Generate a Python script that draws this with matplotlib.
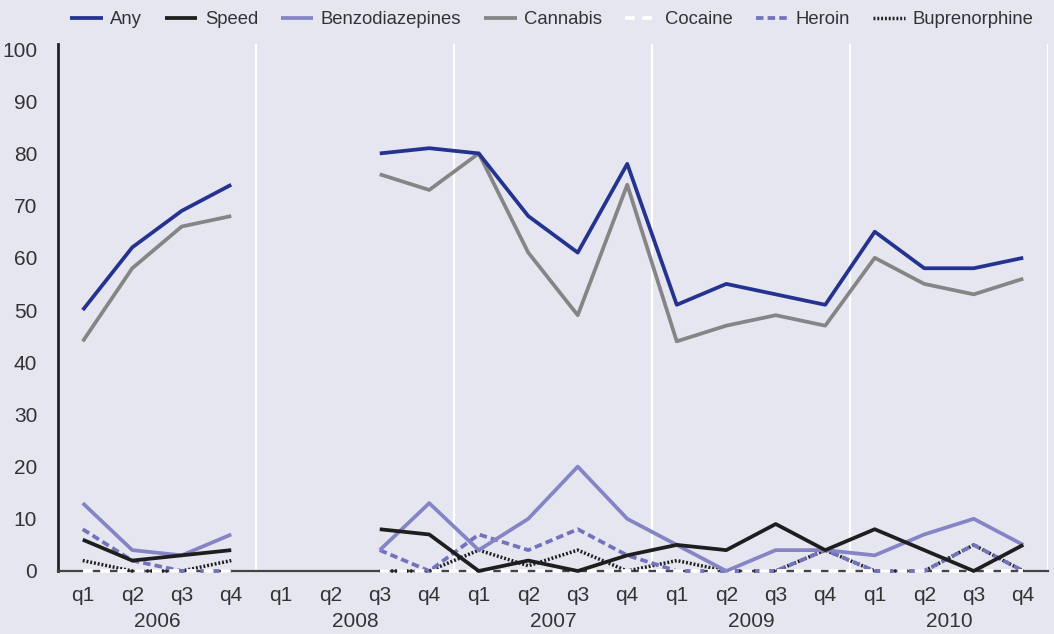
import numpy as np
import matplotlib
matplotlib.use("Agg")
import matplotlib.pyplot as plt
from matplotlib import transforms

plt.rcParams['font.family'] = ['Liberation Sans', 'DejaVu Sans']

years = ['2006', '2008', '2007', '2009', '2010']
quarters = ['q1', 'q2', 'q3', 'q4']
nan = np.nan

any_use = [50, 62, 69, 74, nan, nan, 80, 81, 80, 68, 61, 78, 51, 55, 53, 51, 65, 58, 58, 60]
speed = [6, 2, 3, 4, nan, nan, 8, 7, 0, 2, 0, 3, 5, 4, 9, 4, 8, 4, 0, 5]
benzo = [13, 4, 3, 7, nan, nan, 4, 13, 4, 10, 20, 10, 5, 0, 4, 4, 3, 7, 10, 5]
cannabis = [44, 58, 66, 68, nan, nan, 76, 73, 80, 61, 49, 74, 44, 47, 49, 47, 60, 55, 53, 56]
cocaine = [0, 0, 0, 0, nan, nan, 0, 0, 0, 0, 0, 0, 0, 0, 0, 0, 0, 0, 0, 0]
heroin = [8, 2, 0, 0, nan, nan, 4, 0, 7, 4, 8, 3, 0, 0, 0, 4, 0, 0, 5, 0]
bupe = [2, 0, 0, 2, nan, nan, 0, 0, 4, 1, 4, 0, 2, 0, 0, 4, 0, 0, 5, 0]

series = [
    ('Any', any_use, dict(color='#24338F', lw=2.7)),
    ('Speed', speed, dict(color='#1E1E1E', lw=2.7)),
    ('Benzodiazepines', benzo, dict(color='#8585C6', lw=2.7)),
    ('Cannabis', cannabis, dict(color='#858585', lw=2.7)),
    ('Cocaine', cocaine, dict(color='white', lw=2.7, dashes=(2.6, 2.0))),
    ('Heroin', heroin, dict(color='#7373BC', lw=2.7, dashes=(2.0, 1.1))),
    ('Buprenorphine', bupe, dict(color='#1E1E1E', lw=2.5, dashes=(0.55, 0.55))),
]

bg = '#E6E6F1'
txt = '#333333'
fig = plt.figure(figsize=(10.54, 6.34), dpi=100, facecolor=bg)
ax = fig.add_axes([58 / 1054, 63 / 634, 990 / 1054, 527.2 / 634])
ax.set_facecolor(bg)

n = len(years) * len(quarters)
x = np.arange(n)
handles = []
for i, (name, vals, st) in enumerate(series):
    h, = ax.plot(x, vals, label=name, zorder=10 - i, clip_on=False,
                 solid_capstyle='butt', dash_capstyle='butt', **st)
    handles.append(h)

ax.set_xlim(-0.5, n - 0.5)
ax.set_ylim(0, 101)
ax.set_yticks(range(0, 101, 10))

# group separators
for g in range(1, len(years) + 1):
    ax.axvline(g * len(quarters) - 0.5, color='white', lw=1.6, zorder=1)

ax.set_xticks(x)
ax.set_xticklabels(quarters * len(years))
ax.tick_params(axis='both', length=0, labelsize=15, colors=txt)
ax.tick_params(axis='y', pad=15)
ax.tick_params(axis='x', pad=11)

trans = transforms.blended_transform_factory(ax.transData, ax.transAxes)
for gi, yr in enumerate(years):
    cx = gi * len(quarters) + (len(quarters) - 1) / 2
    ax.text(cx, -0.096, yr, transform=trans, ha='center', va='center',
            fontsize=15, color=txt)

for s in ['top', 'right']:
    ax.spines[s].set_visible(False)
ax.spines['left'].set_color('#222222')
ax.spines['left'].set_linewidth(2.0)
ax.spines['bottom'].set_color('#444444')
ax.spines['bottom'].set_linewidth(1.6)

leg = fig.legend(handles=handles, loc='center', ncol=7,
                 bbox_to_anchor=(552 / 1054, 1 - 20 / 634), frameon=False,
                 fontsize=13.3, handlelength=1.75, handletextpad=0.4,
                 columnspacing=1.25, labelcolor=txt)

fig.savefig('out.png', dpi=100, facecolor=bg)
